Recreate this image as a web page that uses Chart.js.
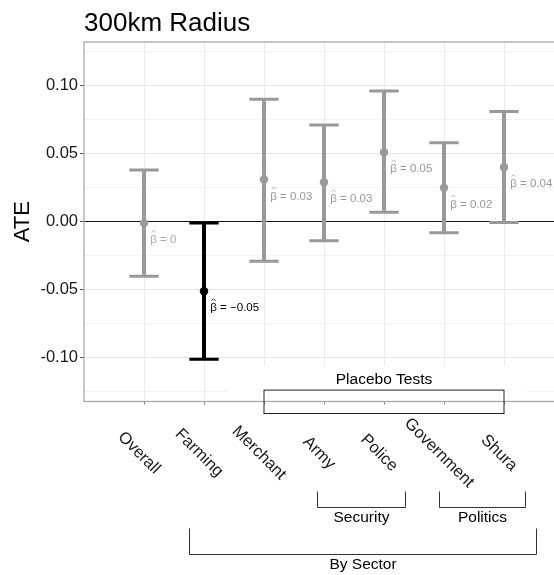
<!DOCTYPE html>
<html>
<head>
<meta charset="utf-8">
<title>300km Radius</title>
<script src="https://cdn.jsdelivr.net/npm/chart.js@4.4.1/dist/chart.umd.min.js"></script>
<style>
  html, body { margin: 0; padding: 0; background: #fff; overflow: hidden; }
  #wrap { width: 564px; height: 575px; }
</style>
</head>
<body>
<div id="wrap"><canvas id="ateChart" width="564" height="575"></canvas></div>
<script>
var categories = ['Overall', 'Farming', 'Merchant', 'Army', 'Police', 'Government', 'Shura'];
var estimates = [-0.001, -0.051, 0.031, 0.029, 0.051, 0.025, 0.040];
var lowerCI = [-0.040, -0.101, -0.029, -0.014, 0.007, -0.008, -0.0005];
var upperCI = [0.038, -0.001, 0.090, 0.071, 0.096, 0.058, 0.081];
var betaLabels = ['0', '\u22120.05', '0.03', '0.03', '0.05', '0.02', '0.04'];
var highlighted = 'Farming';

var yTickValues = [-0.10, -0.05, 0.00, 0.05, 0.10];
var yTickLabels = ['-0.10', '-0.05', '0.00', '0.05', '0.10'];
var yMinorValues = [-0.125, -0.075, -0.025, 0.025, 0.075, 0.125];

// bracket groups under the axis, given in category units
var placeboRange = [3, 7];
var securityRange = [3.89, 5.355];
var politicsRange = [5.91, 7.345];
var sectorRange = [1.75, 7.53];

var FONT = '"Liberation Sans", Arial, Helvetica, sans-serif';

function colorFor(i) {
    return categories[i] === highlighted ? '#000000' : '#999999';
}
function isMajor(v) {
    return yTickValues.some(function (t) { return Math.abs(t - v) < 1e-9; });
}
function points(arr) {
    return categories.map(function (c, i) { return {x: i + 1, y: arr[i]}; });
}

var annotations = {
    id: 'annotations',
    beforeDatasetsDraw: function (chart) {
        var ctx = chart.ctx, xs = chart.scales.x, ys = chart.scales.y, area = chart.chartArea;
        // label background that hides the grid behind "Placebo Tests"
        var l = xs.getPixelForValue(2.38), r = xs.getPixelForValue(7.38), t = ys.getPixelForValue(-0.106);
        ctx.save();
        ctx.fillStyle = '#ffffff';
        ctx.fillRect(l, t, r - l, area.bottom - t);
        ctx.restore();
    },
    afterDatasetsDraw: function (chart) {
        var ctx = chart.ctx;
        var meta = chart.getDatasetMeta(3);
        ctx.save();
        ctx.font = '11.5px ' + FONT;
        ctx.textAlign = 'left';
        ctx.textBaseline = 'middle';
        meta.data.forEach(function (pt, i) {
            var col = categories[i] === highlighted ? '#000000' : (i === 0 ? '#aaaaaa' : '#999999');
            var x0 = pt.x + 6.3, y0 = pt.y + 17;
            ctx.fillStyle = col;
            ctx.strokeStyle = col;
            ctx.fillText('\u03B2 = ' + betaLabels[i], x0, y0);
            // hat over beta
            var bw = ctx.measureText('\u03B2').width;
            ctx.lineWidth = 0.8;
            ctx.beginPath();
            ctx.moveTo(x0 + bw / 2 - 2, y0 - 7.5);
            ctx.lineTo(x0 + bw / 2, y0 - 9.5);
            ctx.lineTo(x0 + bw / 2 + 2, y0 - 7.5);
            ctx.stroke();
        });
        ctx.restore();
    },
    afterDraw: function (chart) {
        var ctx = chart.ctx, xs = chart.scales.x, ys = chart.scales.y, area = chart.chartArea;
        ctx.save();

        // panel border
        ctx.strokeStyle = '#aaaaaa';
        ctx.lineWidth = 1.3;
        ctx.strokeRect(area.left, area.top, area.right - area.left, area.bottom - area.top);

        // title and axis title
        ctx.fillStyle = '#000000';
        ctx.font = '26px ' + FONT;
        ctx.textAlign = 'left';
        ctx.textBaseline = 'alphabetic';
        ctx.fillText('300km Radius', area.left, 30.7);

        ctx.save();
        ctx.font = '22px ' + FONT;
        ctx.textAlign = 'center';
        ctx.textBaseline = 'middle';
        ctx.translate(23.3, (area.top + area.bottom) / 2);
        ctx.rotate(-Math.PI / 2);
        ctx.fillText('ATE', 0, 0);
        ctx.restore();

        // rotated category labels
        ctx.font = '16.5px ' + FONT;
        ctx.fillStyle = '#1a1a1a';
        categories.forEach(function (c, i) {
            var px = xs.getPixelForValue(i + 1);
            ctx.save();
            ctx.translate(px - 5, area.bottom + 51.5);
            ctx.rotate(Math.PI / 4);
            ctx.textAlign = 'center';
            ctx.textBaseline = 'middle';
            ctx.fillText(c, 0, 0);
            ctx.restore();
        });

        // Placebo Tests box
        ctx.strokeStyle = '#222222';
        ctx.lineWidth = 1;
        var bl = xs.getPixelForValue(placeboRange[0]), br = xs.getPixelForValue(placeboRange[1]);
        var bt = ys.getPixelForValue(-0.1236), bb = area.bottom + 12;
        ctx.strokeRect(bl, bt, br - bl, bb - bt);
        ctx.font = '15.5px ' + FONT;
        ctx.fillStyle = '#000000';
        ctx.textAlign = 'center';
        ctx.textBaseline = 'middle';
        ctx.fillText('Placebo Tests', xs.getPixelForValue((placeboRange[0] + placeboRange[1]) / 2), ys.getPixelForValue(-0.1162));

        function bracket(range, top, bottom, label) {
            var l = Math.round(xs.getPixelForValue(range[0])) + 0.5;
            var r = Math.round(xs.getPixelForValue(range[1])) + 0.5;
            var t = area.bottom + top, b = Math.round(area.bottom + bottom) + 0.5;
            ctx.beginPath();
            ctx.moveTo(l, t);
            ctx.lineTo(l, b);
            ctx.lineTo(r, b);
            ctx.lineTo(r, t);
            ctx.stroke();
            ctx.fillText(label, (l + r) / 2, b + 10);
        }
        ctx.strokeStyle = '#333333';
        bracket(securityRange, 90, 105.5, 'Security');
        bracket(politicsRange, 90, 105.5, 'Politics');
        bracket(sectorRange, 127, 152, 'By Sector');

        ctx.restore();
    }
};

var ctx = document.getElementById('ateChart');
var chart = new Chart(ctx, {
    type: 'bar',
    data: {
        datasets: [{
            type: 'bar',
            data: categories.map(function (c, i) { return {x: i + 1, y: [lowerCI[i], upperCI[i]]}; }),
            backgroundColor: categories.map(function (c, i) { return colorFor(i); }),
            borderWidth: 0,
            barThickness: 3.3,
            order: 2
        }, {
            type: 'scatter',
            data: points(upperCI),
            pointStyle: 'line',
            pointRadius: 14.7,
            pointBorderWidth: 3,
            pointBorderColor: categories.map(function (c, i) { return colorFor(i); }),
            order: 1
        }, {
            type: 'scatter',
            data: points(lowerCI),
            pointStyle: 'line',
            pointRadius: 14.7,
            pointBorderWidth: 3,
            pointBorderColor: categories.map(function (c, i) { return colorFor(i); }),
            order: 1
        }, {
            type: 'scatter',
            data: points(estimates),
            pointStyle: 'circle',
            pointRadius: 4.2,
            pointBorderWidth: 0,
            pointBackgroundColor: categories.map(function (c, i) { return colorFor(i); }),
            order: 0
        }]
    },
    options: {
        responsive: false,
        animation: false,
        events: [],
        layout: { autoPadding: false, padding: { top: 42, left: 0, right: 0, bottom: 163.5 } },
        plugins: {
            legend: { display: false },
            tooltip: { enabled: false },
            title: { display: false }
        },
        scales: {
            x: {
                type: 'linear',
                min: 0,
                max: 8,
                offset: false,
                afterBuildTicks: function (scale) {
                    scale.ticks = categories.map(function (c, i) { return {value: i + 1}; });
                },
                afterFit: function (scale) { scale.height = 10; },
                grid: { offset: false, color: '#ebebeb', lineWidth: 1, tickLength: 3, tickColor: '#888888' },
                border: { display: false },
                ticks: { display: false }
            },
            y: {
                min: -0.132,
                max: 0.132,
                afterBuildTicks: function (scale) {
                    scale.ticks = yTickValues.concat(yMinorValues)
                        .sort(function (a, b) { return a - b; })
                        .map(function (v) { return {value: v}; });
                },
                afterFit: function (scale) { scale.width = 84; },
                grid: {
                    color: function (c) {
                        if (Math.abs(c.tick.value) < 1e-9) return '#1a1a1a';
                        return isMajor(c.tick.value) ? '#e6e6e6' : '#f3f3f3';
                    },
                    lineWidth: 1,
                    tickLength: 4,
                    tickColor: function (c) { return isMajor(c.tick.value) ? '#555555' : 'rgba(0,0,0,0)'; }
                },
                border: { display: false },
                ticks: {
                    autoSkip: false,
                    padding: 2,
                    color: '#1a1a1a',
                    font: { family: FONT, size: 16.5 },
                    callback: function (v) {
                        var idx = yTickValues.findIndex(function (t) { return Math.abs(t - v) < 1e-9; });
                        return idx >= 0 ? yTickLabels[idx] : '';
                    }
                }
            }
        }
    },
    plugins: [annotations]
});
</script>
</body>
</html>
